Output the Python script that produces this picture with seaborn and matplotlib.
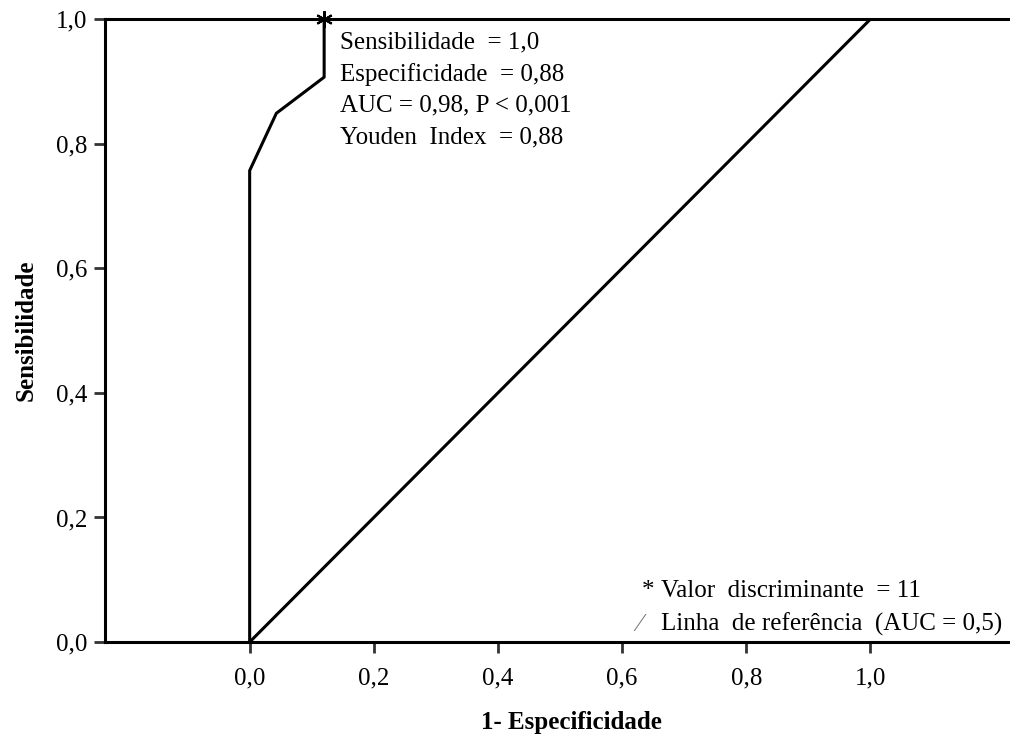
import matplotlib
matplotlib.use("Agg")
import matplotlib.pyplot as plt
import seaborn as sns
import pandas as pd

# ROC curve data
fpr = [0.0, 0.0, 0.043, 0.12, 0.12, 1.0]
tpr = [0.0, 0.757, 0.849, 0.907, 1.0, 1.0]
ref_x = [0.0, 1.0]
ref_y = [0.0, 1.0]
cutoff_x = [0.12]
cutoff_y = [1.0]
tick_vals = [0.0, 0.2, 0.4, 0.6, 0.8, 1.0]
tick_labels = ["0,0", "0,2", "0,4", "0,6", "0,8", "1,0"]
stats_lines = ["Sensibilidade  = 1,0", "Especificidade  = 0,88",
               "AUC = 0,98, P < 0,001", "Youden  Index  = 0,88"]

sns.set_style("ticks")
plt.rcParams['font.family'] = ['Liberation Serif', 'DejaVu Serif']
plt.rcParams['text.color'] = 'black'
plt.rcParams['axes.labelcolor'] = 'black'
plt.rcParams['xtick.labelcolor'] = 'black'
plt.rcParams['ytick.labelcolor'] = 'black'

fig = plt.figure(figsize=(10.1, 7.4), dpi=100)
ax = fig.add_axes([0.104, 0.1324, 0.896, 0.8416])

roc = pd.DataFrame({"x": fpr, "y": tpr})
ref = pd.DataFrame({"x": ref_x, "y": ref_y})
sns.lineplot(data=roc, x="x", y="y", sort=False, estimator=None, color="black", lw=2.2, ax=ax)
sns.lineplot(data=ref, x="x", y="y", sort=False, estimator=None, color="black", lw=2.2, ax=ax)
ax.plot(cutoff_x, cutoff_y, marker=(6, 2, 0), color="black", ms=12, mew=1.5, ls="none", clip_on=False)

ax.set_xlim(-0.233, 1.225)
ax.set_ylim(0, 1.0)
ax.set_xticks(tick_vals)
ax.set_xticklabels(tick_labels)
ax.set_yticks(tick_vals)
ax.set_yticklabels(tick_labels)
ax.tick_params(axis="both", labelsize=18, length=8, width=2, color="#333333")
ax.tick_params(axis="x", pad=10)
ax.tick_params(axis="y", pad=5)
for s in ["left", "bottom", "top"]:
    ax.spines[s].set_linewidth(2.2)
    ax.spines[s].set_color("black")
ax.spines["right"].set_visible(False)

ax.set_xlabel("1- Especificidade", fontsize=18, fontweight="bold")
ax.xaxis.set_label_coords(0.515, -0.111)
ax.set_ylabel("Sensibilidade", fontsize=18, fontweight="bold", labelpad=13)

y0 = 0.963
for i, line in enumerate(stats_lines):
    ax.text(0.145, y0 - i * 0.051, line, fontsize=18, va="center", ha="left")

ax.text(0.632, 0.082, "*", fontsize=18, va="center", ha="left")
ax.text(0.663, 0.082, "Valor  discriminante  = 11", fontsize=18, va="center", ha="left")
ax.text(0.625, 0.028, "⁄", fontsize=18, va="center", ha="left", color="#777777")
ax.text(0.663, 0.028, "Linha  de referência  (AUC = 0,5)", fontsize=18, va="center", ha="left")

fig.savefig("out.png", dpi=100)
